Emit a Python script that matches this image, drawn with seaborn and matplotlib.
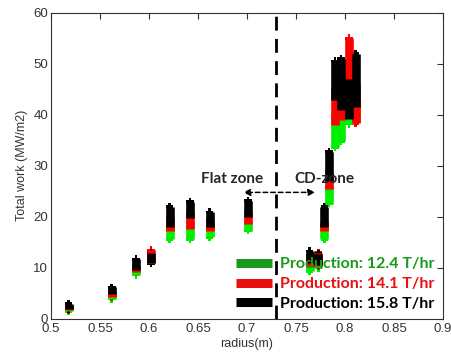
import matplotlib
matplotlib.use("Agg")
import matplotlib.pyplot as plt
from matplotlib.lines import Line2D
import seaborn as sns
import pandas as pd

# radius positions (m)
radius = [0.518, 0.562, 0.587, 0.602, 0.621, 0.642, 0.662, 0.701,
          0.764, 0.773, 0.779, 0.784, 0.790, 0.796, 0.804, 0.811]

# total work ranges (MW/m2) per production rate: low and high end of each bar
green_lo = [1.5, 3.9, 8.6, 11.0, 15.6, 15.6, 16.0, 17.3, 9.3, 10.0, 15.6, 22.6, 33.6, 34.8, 38.2, 38.5]
green_hi = [2.5, 5.0, 10.0, 12.0, 18.0, 19.0, 18.5, 19.0, 11.5, 11.5, 18.0, 26.0, 40.0, 41.0, 40.5, 42.0]
red_lo = [1.8, 4.3, 9.2, 11.0, 17.3, 17.6, 17.2, 18.6, 10.2, 10.3, 17.3, 25.4, 38.0, 39.0, 41.0, 38.3]
red_hi = [2.8, 5.5, 10.5, 13.5, 20.0, 21.0, 19.5, 21.0, 12.5, 13.0, 19.0, 29.0, 45.0, 44.0, 55.0, 46.0]
black_lo = [2.0, 4.8, 9.6, 10.9, 18.0, 19.8, 18.0, 20.0, 10.9, 10.6, 18.0, 27.0, 43.0, 41.0, 39.2, 41.5]
black_hi = [3.0, 6.2, 11.7, 13.0, 22.0, 23.0, 21.0, 23.2, 13.3, 12.8, 22.0, 32.8, 50.5, 51.0, 47.0, 52.0]

series = ["Production: 12.4 T/hr", "Production: 14.1 T/hr", "Production: 15.8 T/hr"]
mark_colors = ["#00ee00", "#ff0000", "#000000"]
legend_colors = ["#1a9a1a", "#e81010", "#000000"]

rows = []
for name, lo, hi in zip(series, [green_lo, red_lo, black_lo], [green_hi, red_hi, black_hi]):
    for i, r in enumerate(radius):
        rows.append({"radius": r, "work": lo[i], "series": name, "unit": i})
        rows.append({"radius": r, "work": hi[i], "series": name, "unit": i})
df = pd.DataFrame(rows)

sns.set_style("white")
plt.rcParams["font.family"] = ["Liberation Sans", "DejaVu Sans"]

fig = plt.figure(figsize=(4.51, 3.54), dpi=100)
ax = fig.add_axes([0.113, 0.099, 0.869, 0.865])

sns.lineplot(data=df, x="radius", y="work", hue="series", units="unit",
             estimator=None, hue_order=series, palette=mark_colors,
             linewidth=6.2, solid_capstyle="butt", legend=False, ax=ax)
sns.scatterplot(data=df, x="radius", y="work", hue="series", hue_order=series,
                palette=mark_colors, marker="P", s=30, linewidth=0,
                legend=False, ax=ax, zorder=1)

# zone boundary
ax.axvline(0.730, color="black", linestyle=(0, (5, 3)), linewidth=2, zorder=5)
ax.annotate("", xy=(0.6935, 24.8), xytext=(0.7725, 24.8),
            arrowprops=dict(arrowstyle="<|-|>", linestyle=(0, (3, 2)),
                            color="black", lw=1.1, mutation_scale=10))
ax.text(0.6845, 27.5, "Flat zone", ha="center", va="center",
        fontsize=11, fontweight="bold", family=["Lato", "DejaVu Sans"])
ax.text(0.7795, 27.5, "CD-zone", ha="center", va="center",
        fontsize=11, fontweight="bold", family=["Lato", "DejaVu Sans"])

handles = [Line2D([0], [0], color=c, linewidth=6.5, solid_capstyle="butt")
           for c in legend_colors]
leg = ax.legend(handles, series, loc="lower right", bbox_to_anchor=(1.0, 0.0),
                frameon=False, handlelength=2.3, handletextpad=0.5,
                labelspacing=0.35, borderaxespad=0.1,
                prop={"family": ["Lato", "DejaVu Sans"], "weight": "bold", "size": 11.5})
for t, c in zip(leg.get_texts(), legend_colors):
    t.set_color(c)

ax.set_xlim(0.5, 0.9)
ax.set_ylim(0, 60)
ax.set_xticks([0.5, 0.55, 0.6, 0.65, 0.7, 0.75, 0.8, 0.85, 0.9])
ax.set_xticklabels(["0.5", "0.55", "0.6", "0.65", "0.7", "0.75", "0.8", "0.85", "0.9"])
ax.set_yticks([0, 10, 20, 30, 40, 50, 60])
ax.set_xlabel("radius(m)", fontsize=9, color="#333333", labelpad=2)
ax.set_ylabel("Total work (MW/m2)", fontsize=9, color="#333333", labelpad=4)
ax.tick_params(direction="in", length=4, width=0.8, top=True, right=True,
               labelsize=9.5, labelcolor="#333333", colors="#333333", pad=2)
ax.tick_params(axis="x", pad=3)
for s in ax.spines.values():
    s.set_color("#333333")
    s.set_linewidth(0.8)

fig.savefig("out.png", dpi=100)
